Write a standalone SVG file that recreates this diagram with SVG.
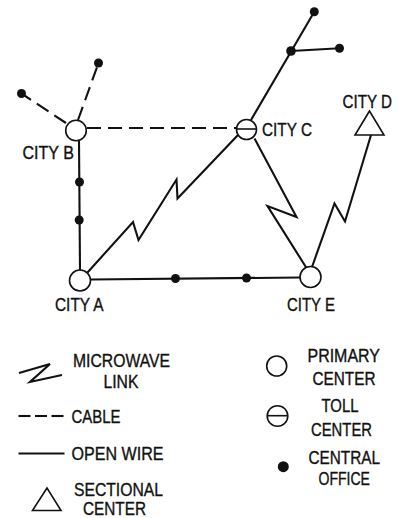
<svg xmlns="http://www.w3.org/2000/svg" width="398" height="518" viewBox="0 0 398 518">
<style>
.bg{fill:#fff}
.ln{fill:none;stroke:#111;stroke-width:2.1;stroke-linejoin:miter;stroke-linecap:butt}
.dash{fill:none;stroke:#111;stroke-width:2.1;stroke-dasharray:14 7}
.node{fill:#fff;stroke:#111;stroke-width:1.6}
.co{fill:#111}
.t{font-family:"Liberation Sans",Arial,sans-serif;font-size:15.5px;fill:#111;stroke:#111;stroke-width:0.3}
</style>
<rect class="bg" x="0" y="0" width="398" height="518"/>
<g id="connectors">
  <line class="ln" x1="79" y1="141" x2="80" y2="270"/>
  <line class="ln" x1="90.5" y1="279.5" x2="300" y2="277.5"/>
  <line class="dash" x1="87" y1="128" x2="236.5" y2="128"/>
  <line class="dash" x1="78" y1="120" x2="98.5" y2="63"/>
  <line class="dash" x1="66" y1="123" x2="21.5" y2="93.5"/>
  <line class="ln" x1="251" y1="120" x2="314.3" y2="11.7"/>
  <line class="ln" x1="291" y1="51" x2="339.5" y2="48.3"/>
  <polyline class="ln" points="87.5,272.5 133,222 138.5,240 176.5,179.5 177.5,198.5 238,135"/>
  <polyline class="ln" points="254.5,138.5 296.5,217 267.5,206 306.5,268"/>
  <polyline class="ln" points="312,267 334.5,203.5 345,221.5 371,135"/>
</g>
<g id="office-b1"><circle class="co" cx="79.5" cy="182" r="4.5"/></g>
<g id="office-b2"><circle class="co" cx="79.2" cy="220" r="4.5"/></g>
<g id="office-ae1"><circle class="co" cx="175.5" cy="278.5" r="4.5"/></g>
<g id="office-ae2"><circle class="co" cx="246.5" cy="278" r="4.5"/></g>
<g id="office-b-top"><circle class="co" cx="98.5" cy="63" r="4.5"/></g>
<g id="office-b-left"><circle class="co" cx="21.5" cy="93.5" r="4.5"/></g>
<g id="office-c-top"><circle class="co" cx="314.3" cy="11.7" r="4.5"/></g>
<g id="office-c-mid"><circle class="co" cx="291" cy="51" r="4.8"/></g>
<g id="office-c-right"><circle class="co" cx="339.5" cy="48.3" r="4.5"/></g>
<g id="city-b">
  <circle class="node" cx="76" cy="130.5" r="10.3"/>
  <text class="t" x="22.5" y="159" transform="matrix(1 0 0 1.2 0 -31.8)" textLength="51.5" lengthAdjust="spacingAndGlyphs">CITY B</text>
</g>
<g id="city-c">
  <circle class="node" cx="246.5" cy="129.5" r="10"/>
  <line x1="236.5" y1="129" x2="256.5" y2="129" stroke="#111" stroke-width="1.6"/>
  <text class="t" x="262" y="136.5" transform="matrix(1 0 0 1.2 0 -27.3)" textLength="50" lengthAdjust="spacingAndGlyphs">CITY C</text>
</g>
<g id="city-d">
  <polygon class="node" points="369.5,111 355,135 384,135"/>
  <text class="t" x="342.5" y="108.5" transform="matrix(1 0 0 1.2 0 -21.7)" textLength="49.5" lengthAdjust="spacingAndGlyphs">CITY D</text>
</g>
<g id="city-a">
  <circle class="node" cx="80" cy="280.5" r="10.5"/>
  <text class="t" x="55" y="311.5" transform="matrix(1 0 0 1.2 0 -62.3)" textLength="48.5" lengthAdjust="spacingAndGlyphs">CITY A</text>
</g>
<g id="city-e">
  <circle class="node" cx="310.5" cy="277" r="10.5"/>
  <text class="t" x="287" y="311.5" transform="matrix(1 0 0 1.2 0 -62.3)" textLength="48" lengthAdjust="spacingAndGlyphs">CITY E</text>
</g>
<g id="legend-microwave">
  <polyline class="ln" points="19,373 50,364 30,382 62,375"/>
  <text class="t" x="73" y="366.5" transform="matrix(1 0 0 1.2 0 -73.3)" textLength="97" lengthAdjust="spacingAndGlyphs">MICROWAVE</text>
  <text class="t" x="103.5" y="388" transform="matrix(1 0 0 1.2 0 -77.6)" textLength="35" lengthAdjust="spacingAndGlyphs">LINK</text>
</g>
<g id="legend-cable">
  <line class="ln" x1="18.5" y1="416" x2="30.5" y2="416"/>
  <line class="ln" x1="35" y1="416" x2="47" y2="416"/>
  <line class="ln" x1="51.5" y1="416" x2="63.5" y2="416"/>
  <text class="t" x="71.5" y="423" transform="matrix(1 0 0 1.2 0 -84.6)" textLength="49" lengthAdjust="spacingAndGlyphs">CABLE</text>
</g>
<g id="legend-openwire">
  <line class="ln" x1="18.5" y1="453.5" x2="64.5" y2="453.5"/>
  <text class="t" x="71.5" y="460" transform="matrix(1 0 0 1.2 0 -92)" textLength="92" lengthAdjust="spacingAndGlyphs">OPEN WIRE</text>
</g>
<g id="legend-sectional">
  <polygon class="node" points="47,488 32.5,510.5 61,510.5"/>
  <text class="t" x="74" y="496.5" transform="matrix(1 0 0 1.2 0 -99.3)" textLength="89" lengthAdjust="spacingAndGlyphs">SECTIONAL</text>
  <text class="t" x="83" y="515" transform="matrix(1 0 0 1.2 0 -103)" textLength="63" lengthAdjust="spacingAndGlyphs">CENTER</text>
</g>
<g id="legend-primary">
  <circle class="node" cx="276.7" cy="366" r="10"/>
  <text class="t" x="307.5" y="362.5" transform="matrix(1 0 0 1.2 0 -72.5)" textLength="72.5" lengthAdjust="spacingAndGlyphs">PRIMARY</text>
  <text class="t" x="312.5" y="385" transform="matrix(1 0 0 1.2 0 -77)" textLength="63" lengthAdjust="spacingAndGlyphs">CENTER</text>
</g>
<g id="legend-toll">
  <circle class="node" cx="277.5" cy="416" r="10.3"/>
  <line x1="267.2" y1="415.7" x2="287.8" y2="415.7" stroke="#111" stroke-width="1.6"/>
  <text class="t" x="321.5" y="412.5" transform="matrix(1 0 0 1.2 0 -82.5)" textLength="37" lengthAdjust="spacingAndGlyphs">TOLL</text>
  <text class="t" x="311" y="436" transform="matrix(1 0 0 1.2 0 -87.2)" textLength="61" lengthAdjust="spacingAndGlyphs">CENTER</text>
</g>
<g id="legend-office">
  <circle class="co" cx="283.3" cy="466.7" r="5.5"/>
  <text class="t" x="308.5" y="464" transform="matrix(1 0 0 1.2 0 -92.8)" textLength="71.5" lengthAdjust="spacingAndGlyphs">CENTRAL</text>
  <text class="t" x="318.5" y="485" transform="matrix(1 0 0 1.2 0 -97)" textLength="51.5" lengthAdjust="spacingAndGlyphs">OFFICE</text>
</g>
</svg>
